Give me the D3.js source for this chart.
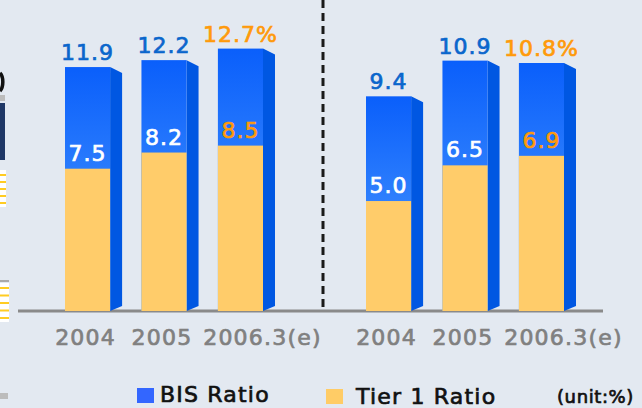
<!DOCTYPE html>
<html>
<head>
<meta charset="utf-8">
<script src="https://cdn.jsdelivr.net/npm/d3@7"></script>
<style>
  body { margin: 0; background: #e3e9f1; }
  svg { display: block; font-family: 'DejaVu Sans', sans-serif; }
</style>
</head>
<body>
<div id="chart"></div>
<script>
const categories = ['2004', '2005', '2006.3(e)']
const bisLeft    = [11.9, 12.2, 12.7]
const tierLeft   = [7.5, 8.2, 8.5]
const bisRight   = [9.4, 10.9, 10.8]
const tierRight  = [5.0, 6.5, 6.9]
const legendKeys = ['BIS Ratio', 'Tier 1 Ratio']
const unitLabel  = '(unit:%)'

const width = 642, height = 408
const baseY = 311
const sideW = 12

const svg = d3.select('#chart').append('svg').attr('width', width).attr('height', height)
svg.append('rect').attr('width', width).attr('height', height).attr('fill', '#e3e9f1')

const defs = svg.append('defs')
const grad = defs.append('linearGradient').attr('id', 'bisGrad').attr('x1', 0).attr('y1', 0).attr('x2', 0).attr('y2', 1)
grad.append('stop').attr('offset', '0%').attr('stop-color', '#0a5ffb')
grad.append('stop').attr('offset', '100%').attr('stop-color', '#55a2ff')

// bits of the neighbouring chart cut off at the left edge
svg.append('path').attr('d', 'M0,73 A5,10 0 0 1 0,91').attr('fill', 'none').attr('stroke', '#111').attr('stroke-width', 3.5)
svg.append('rect').attr('x', 0).attr('y', 95).attr('width', 5).attr('height', 6).attr('fill', '#bcbcbc')
svg.append('rect').attr('x', 0).attr('y', 103).attr('width', 5).attr('height', 57).attr('fill', '#1f3766')
svg.append('rect').attr('x', 0).attr('y', 170).attr('width', 6).attr('height', 37).attr('fill', '#fff')
svg.append('rect').attr('x', 0).attr('y', 280).attr('width', 9).attr('height', 2).attr('fill', '#aaa')
svg.append('rect').attr('x', 0).attr('y', 283).attr('width', 9).attr('height', 39).attr('fill', '#fff')
for (var k = 0; k < 5; ++k) {
  svg.append('rect').attr('x', 0).attr('y', 174 + k * 7).attr('width', 6).attr('height', 2).attr('fill', '#ffcc22')
  svg.append('rect').attr('x', 0).attr('y', 287 + k * 7.5).attr('width', 9).attr('height', 2).attr('fill', '#ffcc22')
}
svg.append('rect').attr('x', 0).attr('y', 393).attr('width', 8).attr('height', 6).attr('fill', '#bcbcbc')

//axis line
svg.append('line').attr('x1', 18).attr('x2', 603).attr('y1', baseY).attr('y2', baseY)
  .attr('stroke', '#8a8a8a').attr('stroke-width', 3)

//dashed separator
svg.append('line').attr('x1', 323).attr('x2', 323).attr('y1', 0).attr('y2', 307)
  .attr('stroke', '#1a1a1a').attr('stroke-width', 3).attr('stroke-dasharray', '8 5')

const fmt = d3.format('.1f')

function boldText(sel, color) {
  return sel.attr('fill', color).attr('stroke', color).attr('stroke-width', 0.7)
}

function drawGroup(bis, tier, x, y) {
  var g = svg.append('g')
  var bw = x.bandwidth()
  var last = categories.length - 1
  categories.forEach(function(c, i) {
    var x0 = x(c), x1 = x0 + bw, top = y(bis[i]), tTop = y(tier[i])
    //side face
    g.append('polygon')
      .attr('points', [[x1, top], [x1 + sideW, top + 6], [x1 + sideW, baseY - 5], [x1, baseY]].join(' '))
      .attr('fill', '#0057e2')
    //front BIS
    g.append('rect').attr('x', x0).attr('y', top).attr('width', bw).attr('height', baseY - top).attr('fill', 'url(#bisGrad)')
    //front Tier 1
    g.append('rect').attr('x', x0).attr('y', tTop).attr('width', bw).attr('height', baseY - tTop).attr('fill', '#ffcc6a')
    //labels
    boldText(g.append('text').attr('x', x0 + bw / 2).attr('y', top - 7).attr('text-anchor', 'middle')
      .style('font-size', '22px').style('letter-spacing', '1px')
      .text(fmt(bis[i]) + (i == last ? '%' : '')), i == last ? '#ff9a0a' : '#0a66cc')
    boldText(g.append('text').attr('x', x0 + bw / 2).attr('y', tTop - 8).attr('text-anchor', 'middle')
      .style('font-size', '22px').style('letter-spacing', '1px')
      .text(fmt(tier[i])), i == last ? '#ff9a0a' : '#ffffff')
    boldText(g.append('text').attr('x', x0 + bw / 2 + (i == last ? 22 : -2)).attr('y', 345).attr('text-anchor', 'middle')
      .style('font-size', '22px').style('letter-spacing', '1.2px')
      .text(c), '#808080')
  })
}

var xLeft  = d3.scaleBand().domain(categories).range([65, 263]).paddingInner(0.41).paddingOuter(0)
var xRight = d3.scaleBand().domain(categories).range([366, 564]).paddingInner(0.41).paddingOuter(0)
var yLeft  = d3.scaleLinear().domain([1.34, 13]).range([baseY, baseY - 23.1 * 11.66])
var yRight = d3.scaleLinear().domain([0.38, 11]).range([baseY, baseY - 23.8 * 10.62])

drawGroup(bisLeft, tierLeft, xLeft, yLeft)
drawGroup(bisRight, tierRight, xRight, yRight)

//legend
var legendColors = ['#3366ff', '#ffcc66']
var legendX = [137, 326], legendTextX = [160, 356]
legendKeys.forEach(function(k, i) {
  svg.append('rect').attr('x', legendX[i]).attr('y', 388 + i).attr('width', 17).attr('height', 15).attr('fill', legendColors[i])
  boldText(svg.append('text').attr('x', legendTextX[i]).attr('y', 402 + i * 2)
    .style('font-size', '22px').style('letter-spacing', '1.2px').text(k), '#111')
})
boldText(svg.append('text').attr('x', 557).attr('y', 403).style('font-size', '18px').style('letter-spacing', '0.6px').text(unitLabel), '#111')
</script>
</body>
</html>
